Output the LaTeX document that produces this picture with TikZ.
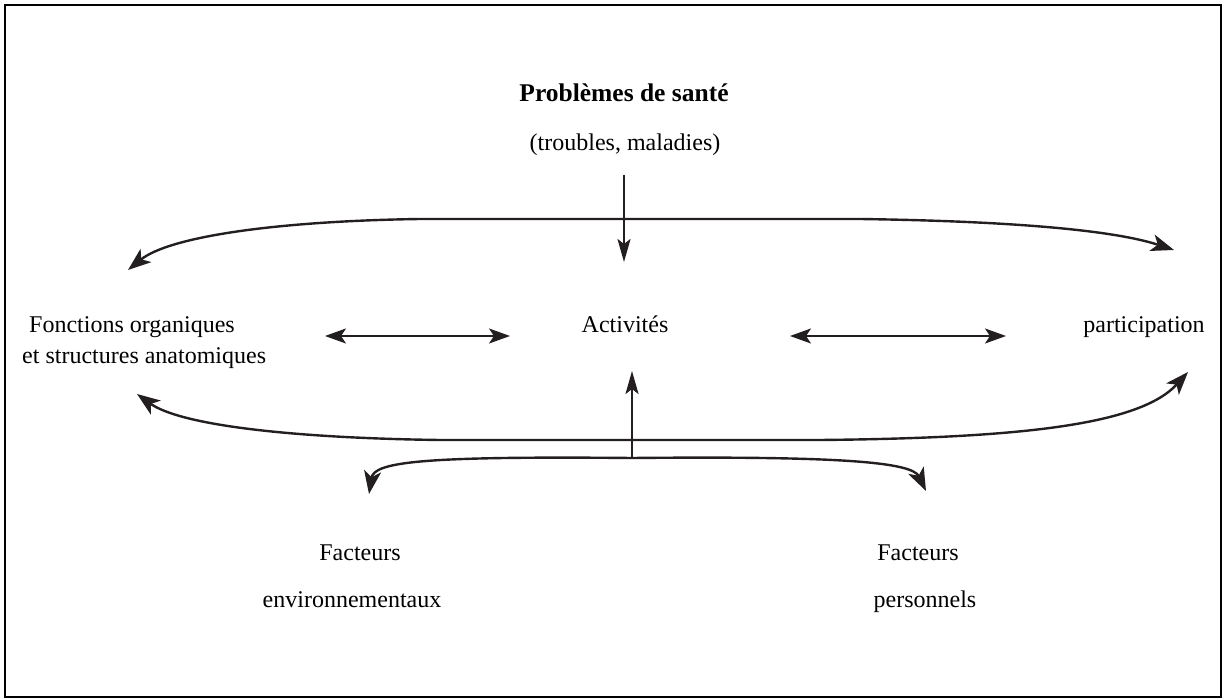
\documentclass[tikz,border=0pt]{standalone}
\usepackage{fontspec}
\setmainfont{Liberation Serif}
\usetikzlibrary{arrows.meta}
\definecolor{ink}{RGB}{35,31,32}
\begin{document}
\begin{tikzpicture}[x=1pt,y=-1pt,
  lbl/.style={font=\fontsize{24}{30}\selectfont, inner sep=0pt, anchor=base},
  conn/.style={line width=2.4pt, draw=ink},
  dbl/.style={line width=2pt, draw=ink, {Stealth[length=21pt,width=15pt,inset=5pt]}-{Stealth[length=21pt,width=15pt,inset=5pt]}},
  big/.style={-{Stealth[length=23pt,width=17pt,inset=6pt]}},
  vert/.style={-{Stealth[length=23pt,width=13pt,inset=5pt]}}
]
\useasboundingbox (0,0) rectangle (1224,700);
\draw[line width=2pt] (5,5) rectangle (1221,697);

% texts
\node[lbl, font={\fontsize{25.5}{30}\selectfont\bfseries}] (title) at (624,102) {Problèmes de santé};
\node[lbl] (sub) at (625,151) {(troubles, maladies)};
\node[lbl, anchor=base west] (fonc1) at (29,333) {Fonctions organiques};
\node[lbl, anchor=base west] (fonc2) at (22,364) {et structures anatomiques};
\node[lbl] (act) at (625,333) {Activités};
\node[lbl] (part) at (1144,333) {participation};
\node[lbl] (fe1) at (360,560) {Facteurs};
\node[lbl] (fe2) at (352,607) {environnementaux};
\node[lbl] (fp1) at (918,560) {Facteurs};
\node[lbl] (fp2) at (925,607) {personnels};

% anchor coordinates
\coordinate (vtop) at (624,175);
\coordinate (vbot) at (624,262);
\coordinate (tl) at (128,270);
\coordinate (tr) at (1174,250);
\coordinate (bl) at (137,394);
\coordinate (br) at (1188,372);
\coordinate (junc) at (632,458);
\coordinate (up) at (632,371);
\coordinate (fl) at (369,494);
\coordinate (fr) at (926,491);
\coordinate (d1a) at (325,336);
\coordinate (d1b) at (510,336);
\coordinate (d2a) at (790,336);
\coordinate (d2b) at (1006,336);

% top curve
\draw[conn, big] (vtop |- 0,219) -- (420,219) .. controls (280,221) and (170,236) .. (tl);
\draw[conn, big] (vtop |- 0,219) -- (860,219) .. controls (1000,221) and (1110,229) .. (tr);
\draw[conn, vert] (vtop) -- (vbot);

% double arrows
\draw[dbl] (d1a) -- (d1b);
\draw[dbl] (d2a) -- (d2b);

% bottom big curve
\draw[conn, big] (junc |- 0,440) -- (440,440) .. controls (290,438) and (180,425) .. (bl);
\draw[conn, big] (junc |- 0,440) -- (820,440) .. controls (1020,438) and (1140,425) .. (br);

% T junction
\draw[conn, vert] (junc) -- (up);
\draw[conn, big] (junc) .. controls (420,456) and (374,462) .. (fl);
\draw[conn, big] (junc) .. controls (840,456) and (912,462) .. (fr);
\end{tikzpicture}
\end{document}
